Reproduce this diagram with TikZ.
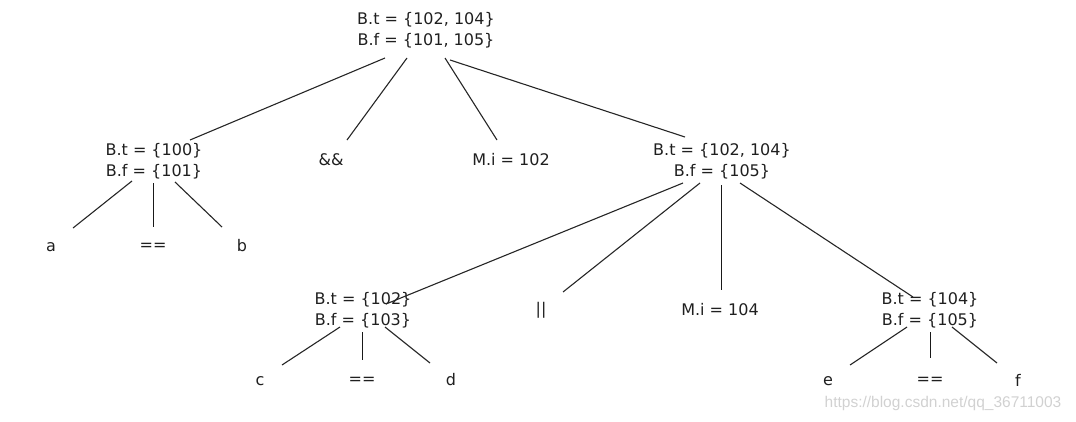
\documentclass[tikz,border=0pt]{standalone}
\usepackage{fontspec}
\setmainfont{DejaVu Sans}
\newfontfamily\wmfont{Liberation Sans}
\begin{document}
\begin{tikzpicture}[x=1pt,y=-1pt,
  lab/.style={font=\fontsize{16}{21.5}\selectfont, text=black!88, inner sep=0pt, align=center},
  edge/.style={draw=black!85, line width=1.1pt},
  vedge/.style={draw=black!90, line width=1.3pt}]
\useasboundingbox (0,0) rectangle (1076,421);
% internal nodes
\node[lab] (root) at (426,30) {B.t = \{102, 104\}\\B.f = \{101, 105\}};
\node[lab] (lc) at (154,161) {B.t = \{100\}\\B.f = \{101\}};
\node[lab] (rc) at (722,161) {B.t = \{102, 104\}\\B.f = \{105\}};
\node[lab] (cd) at (363,310) {B.t = \{102\}\\B.f = \{103\}};
\node[lab] (ef) at (930,310) {B.t = \{104\}\\B.f = \{105\}};
% leaves
\node[lab] (and) at (331,160) {\&\&};
\node[lab] (mi1) at (511,160) {M.i = 102};
\node[lab] (a) at (51,247) {a};
\node[lab] (eq1) at (153,247) {==};
\node[lab] (b) at (242,246) {b};
\node[lab] (or) at (541,310) {||};
\node[lab] (mi2) at (720,310) {M.i = 104};
\node[lab] (c) at (260,381) {c};
\node[lab] (eq2) at (362,381) {==};
\node[lab] (d) at (451,380) {d};
\node[lab] (e) at (828,381) {e};
\node[lab] (eq3) at (930,381) {==};
\node[lab] (f) at (1018,380) {f};
\node[font=\wmfont\fontsize{15.5}{15.5}\selectfont, text=black!18, inner sep=0pt] (wm) at (943,403) {https://blog.csdn.net/qq\_36711003};
% connector end points
\coordinate (r1) at (385,58);  \coordinate (lcT) at (190,140);
\coordinate (r2) at (407,58);  \coordinate (andT) at (347,140);
\coordinate (r3) at (445,58);  \coordinate (mi1T) at (497,140);
\coordinate (r4) at (450,60);  \coordinate (rcT) at (685,137);
\coordinate (l1) at (132,181); \coordinate (aT) at (73,228);
\coordinate (l2) at (153.5,183); \coordinate (eq1T) at (153.5,227);
\coordinate (l3) at (175,182); \coordinate (bT) at (222,227);
\coordinate (q1) at (683,183); \coordinate (cdT) at (386,304);
\coordinate (q2) at (700,183); \coordinate (orT) at (563,292);
\coordinate (q3) at (721.5,185); \coordinate (mi2T) at (721.5,290);
\coordinate (q4) at (740,183); \coordinate (efT) at (913,297);
\coordinate (c1) at (340,327); \coordinate (cT) at (282,365);
\coordinate (c2) at (362.5,332); \coordinate (eq2T) at (362.5,360);
\coordinate (c3) at (385,327); \coordinate (dT) at (430,363);
\coordinate (e1) at (907,327); \coordinate (eT) at (850,365);
\coordinate (e2) at (930.5,332); \coordinate (eq3T) at (930.5,358);
\coordinate (e3) at (952,327); \coordinate (fT) at (997,363);
% connectors
\draw[edge] (r1) -- (lcT);
\draw[edge] (r2) -- (andT);
\draw[edge] (r3) -- (mi1T);
\draw[edge] (r4) -- (rcT);
\draw[edge] (l1) -- (aT);
\draw[vedge] (l2) -- (eq1T);
\draw[edge] (l3) -- (bT);
\draw[edge] (q1) -- (cdT);
\draw[edge] (q2) -- (orT);
\draw[vedge] (q3) -- (mi2T);
\draw[edge] (q4) -- (efT);
\draw[edge] (c1) -- (cT);
\draw[vedge] (c2) -- (eq2T);
\draw[edge] (c3) -- (dT);
\draw[edge] (e1) -- (eT);
\draw[vedge] (e2) -- (eq3T);
\draw[edge] (e3) -- (fT);
\end{tikzpicture}
\end{document}
